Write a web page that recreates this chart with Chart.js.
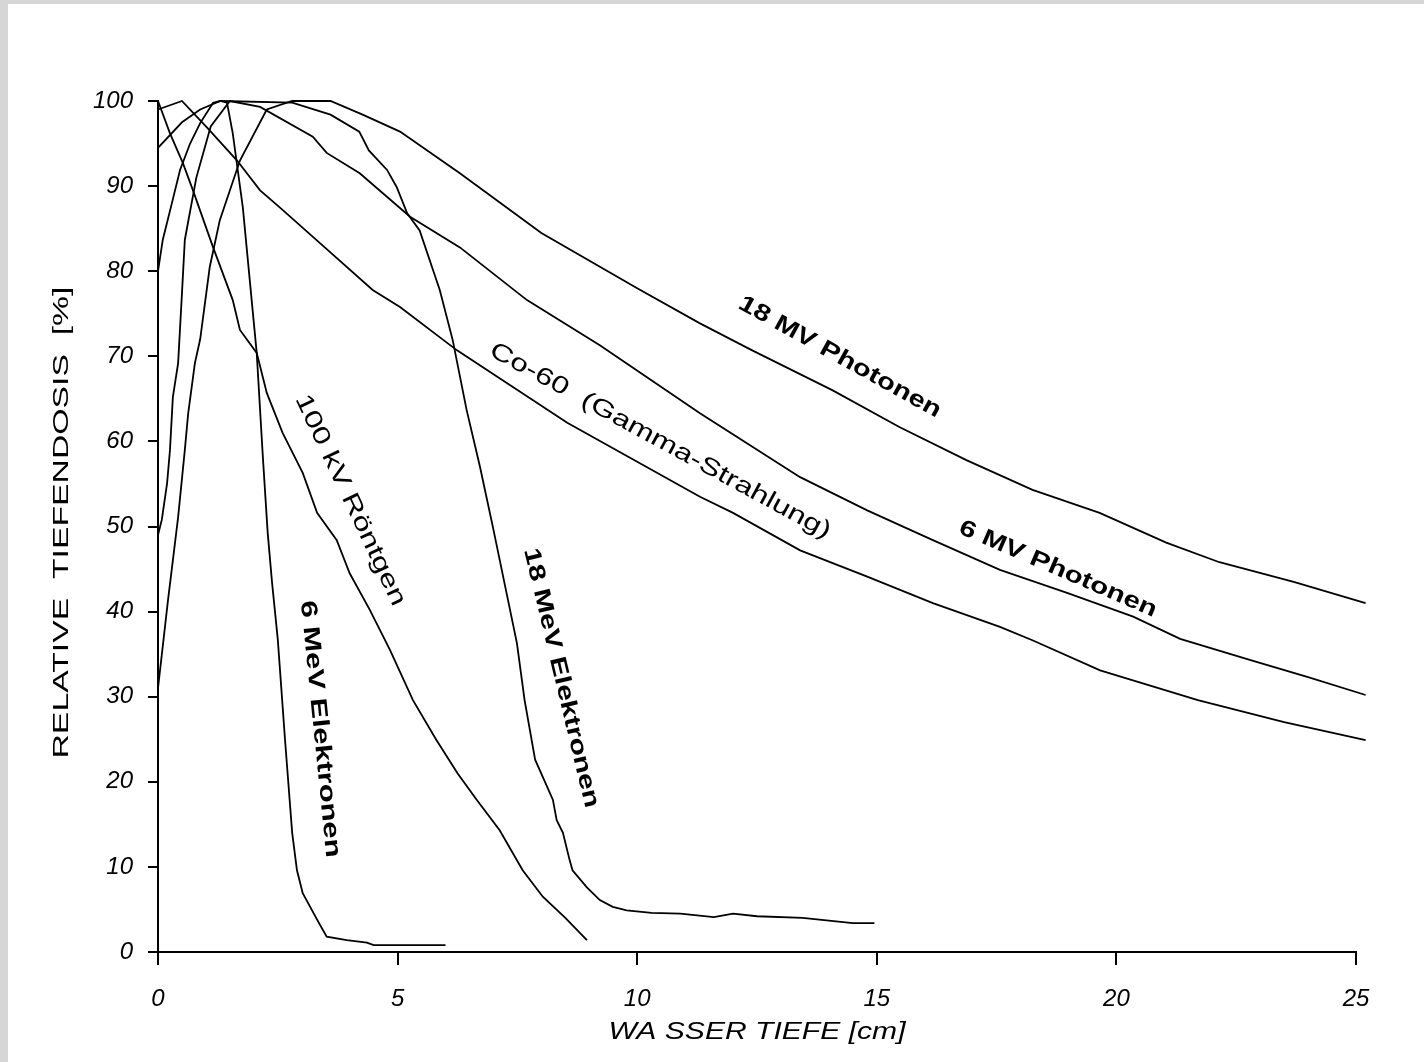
<!DOCTYPE html>
<html>
<head>
<meta charset="utf-8">
<script src="https://cdn.jsdelivr.net/npm/chart.js@4.4.1/dist/chart.umd.min.js"></script>
<style>
  html, body { margin: 0; padding: 0; background: #fff; }
  #wrap { position: relative; width: 1424px; height: 1062px; overflow: hidden; }
  .edge { position: absolute; background: #d6d6d6; }
</style>
</head>
<body>
<div id="wrap">
  <canvas id="chart" width="1424" height="1062"></canvas>
  <div class="edge" style="left:0;top:0;width:8px;height:1062px"></div>
  <div class="edge" style="left:0;top:0;width:1424px;height:4px"></div>
</div>
<script>
// depth in cm, dose in %
const depth100kV = [0, 0.25, 0.52, 0.73, 1.15, 1.56, 1.71, 2.06, 2.27, 2.6, 3.02, 3.32, 3.73, 4.0, 4.42, 4.84, 5.32, 5.8, 6.25, 6.65, 7.13, 7.61, 8.03, 8.5, 8.95];
const dose100kV  = [100, 96.2, 92.7, 89.5, 82.8, 76.6, 73.1, 70.4, 65.7, 61, 56.3, 51.6, 48.4, 44.5, 40.2, 35.5, 29.6, 25, 21, 17.9, 14.3, 9.6, 6.5, 4, 1.4];

const depthCo60 = [0, 0.5, 1.02, 1.65, 2.13, 2.54, 3.38, 4.48, 5.05, 6.24, 8.54, 11.31, 12.0, 13.4, 14.8, 16.17, 17.57, 18.26, 19.66, 21.7, 23.5, 25.2];
const doseCo60  = [99, 100, 96.9, 93, 89.5, 87.5, 83.3, 77.8, 75.8, 70.7, 62.2, 53.5, 51.6, 47.2, 44.1, 41.0, 38.2, 36.6, 33.1, 29.6, 27, 24.9];

const depth6MV = [0, 0.08, 0.19, 0.25, 0.31, 0.42, 0.5, 0.56, 0.8, 1.1, 1.5, 2.13, 3.23, 3.52, 4.21, 5.26, 6.3, 7.7, 9.22, 11.31, 12.42, 13.4, 14.8, 16.17, 17.57, 18.97, 20.35, 21.33, 22.8, 24.0, 25.2];
const dose6MV  = [49, 50.8, 55.1, 59, 65.2, 69.2, 77.4, 83.7, 91, 97, 100, 99.3, 95.8, 93.9, 91.5, 86.4, 82.8, 76.6, 71.3, 63.3, 59.3, 55.8, 51.9, 48.4, 44.9, 42.2, 39.4, 36.8, 34.3, 32.3, 30.2];

const depth18MV = [0, 0.21, 0.42, 0.56, 0.63, 0.77, 0.88, 1.08, 1.29, 1.71, 2.27, 2.8, 3.6, 4.27, 5.05, 6.3, 8.0, 10.0, 11.3, 12.4, 14.08, 15.47, 16.87, 18.25, 19.65, 21.04, 22.15, 23.7, 25.2];
const dose18MV  = [31, 41.4, 51.1, 59, 63.3, 69.2, 72, 80.5, 86, 93, 99, 100, 100, 98.4, 96.4, 91.5, 84.5, 78, 73.9, 70.7, 66.0, 61.7, 57.8, 54.3, 51.6, 48.1, 45.8, 43.5, 41];

const depth6MeV = [0, 0.1, 0.29, 0.46, 0.67, 0.88, 1.15, 1.3, 1.44, 1.56, 1.77, 1.98, 2.06, 2.19, 2.29, 2.38, 2.5, 2.65, 2.8, 2.9, 3.02, 3.32, 3.52, 3.94, 4.36, 4.5, 6.0];
const dose6MeV  = [80, 83.7, 88, 91.9, 95, 97.4, 99.8, 100, 99.8, 96.2, 87.5, 75.1, 70.4, 58, 49.2, 43.4, 36.7, 25, 14, 9.6, 6.9, 3.8, 1.8, 1.4, 1.1, 0.8, 0.8];

const depth18MeV = [0, 0.5, 0.88, 1.3, 2.8, 3.6, 4.2, 4.4, 4.78, 4.98, 5.2, 5.46, 5.88, 6.15, 6.44, 6.72, 6.99, 7.49, 7.65, 7.87, 8.24, 8.32, 8.45, 8.59, 8.65, 8.95, 9.22, 9.49, 9.78, 10.3, 10.9, 11.6, 12.0, 12.5, 13.45, 14.5, 14.95];
const dose18MeV  = [94.5, 97.5, 99, 100, 99.8, 98.4, 96.4, 94.2, 91.9, 89.9, 86.8, 84.8, 77.8, 71.9, 63.7, 57.0, 49.9, 36.3, 29.6, 22.6, 17.9, 15.5, 14.0, 10.8, 9.6, 7.6, 6.1, 5.3, 4.9, 4.6, 4.5, 4.1, 4.5, 4.2, 4.0, 3.4, 3.4];

const xTicks = [0, 5, 10, 15, 20, 25];
const yTicks = [0, 10, 20, 30, 40, 50, 60, 70, 80, 90, 100];

// curve labels: text and anchor (depth, dose)
const labelText  = ['18 MV Photonen', 'Co-60  (Gamma-Strahlung)', '6 MV Photonen', '100 kV Röntgen', '6 MeV Elektronen', '18 MeV Elektronen'];
const labelDepth = [14.23, 10.48, 18.78, 4.01, 3.38, 8.41];
const labelDose  = [69.9, 60.05, 45.0, 53.1, 26.2, 32.2];
// angle (deg), text length (px), weight
const labelStyle = [
    { angle: 29, len: 228, font: 'bold 23px "Liberation Sans"' },
    { angle: 28.6, len: 385, font: '24px "Liberation Sans"' },
    { angle: 23.3, len: 213, font: 'bold 23px "Liberation Sans"' },
    { angle: 64.8, len: 231, font: '24px "Liberation Sans"' },
    { angle: 84.3, len: 258, font: 'bold 23px "Liberation Sans"' },
    { angle: 76.6, len: 266, font: 'bold 23px "Liberation Sans"' },
];

function pts(xs, ys) {
    return xs.map((x, i) => ({ x: x, y: ys[i] }));
}

function curve(xs, ys) {
    return {
        data: pts(xs, ys),
        borderColor: '#000',
        borderWidth: 1.8,
        pointRadius: 0,
        tension: 0,
        fill: false,
        clip: false,
    };
}

function fitText(ctx, text, cx, cy, angleDeg, len, font) {
    ctx.save();
    ctx.font = font;
    ctx.fillStyle = '#000';
    ctx.textAlign = 'center';
    ctx.textBaseline = 'middle';
    ctx.translate(cx, cy);
    ctx.rotate(angleDeg * Math.PI / 180);
    const w = ctx.measureText(text).width;
    ctx.scale(len / w, 1);
    ctx.fillText(text, 0, 0);
    ctx.restore();
}

const textPlugin = {
    id: 'curveText',
    afterDatasetsDraw(chart) {
        const ctx = chart.ctx;
        const xs = chart.scales.x, ys = chart.scales.y;
        labelText.forEach((t, i) => {
            const st = labelStyle[i];
            fitText(ctx, t, xs.getPixelForValue(labelDepth[i]), ys.getPixelForValue(labelDose[i]), st.angle, st.len, st.font);
        });
        const area = chart.chartArea;
        // axis titles
        fitText(ctx, 'RELATIVE  TIEFENDOSIS  [%]', 62, (area.top + area.bottom) / 2 - 4, -90, 472, '22px "Liberation Sans"');
        fitText(ctx, 'WA SSER TIEFE [cm]', (area.left + area.right) / 2, 1032, 0, 297, 'italic 24px "Liberation Sans"');
    }
};

const ctx = document.getElementById('chart').getContext('2d');
const depthChart = new Chart(ctx, {
    type: 'line',
    data: {
        datasets: [
            curve(depth100kV, dose100kV),
            curve(depthCo60, doseCo60),
            curve(depth6MV, dose6MV),
            curve(depth18MV, dose18MV),
            curve(depth6MeV, dose6MeV),
            curve(depth18MeV, dose18MeV),
        ]
    },
    options: {
        responsive: false,
        animation: false,
        devicePixelRatio: 1,
        layout: { padding: { left: 0, top: 101, right: 68, bottom: 0 } },
        plugins: {
            legend: { display: false },
            tooltip: { enabled: false },
        },
        scales: {
            x: {
                type: 'linear',
                min: 0,
                max: 25,
                afterFit: (s) => { s.height = 110; },
                afterBuildTicks: (s) => { s.ticks = xTicks.map(v => ({ value: v })); },
                ticks: {
                    color: '#000',
                    padding: 20,
                    maxRotation: 0,
                    font: { family: 'Liberation Sans', size: 24, style: 'italic' },
                },
                grid: { drawOnChartArea: false, drawTicks: true, tickLength: 13, color: '#000', lineWidth: 2 },
                border: { color: '#000', width: 2 },
            },
            y: {
                min: 0,
                max: 100,
                afterFit: (s) => { s.width = 158; },
                afterBuildTicks: (s) => { s.ticks = yTicks.map(v => ({ value: v })); },
                ticks: {
                    color: '#000',
                    padding: 15,
                    font: { family: 'Liberation Sans', size: 24, style: 'italic' },
                },
                grid: { drawOnChartArea: false, drawTicks: true, tickLength: 10, color: '#000', lineWidth: 2 },
                border: { color: '#000', width: 2 },
            },
        },
    },
    plugins: [textPlugin],
});
</script>
</body>
</html>
